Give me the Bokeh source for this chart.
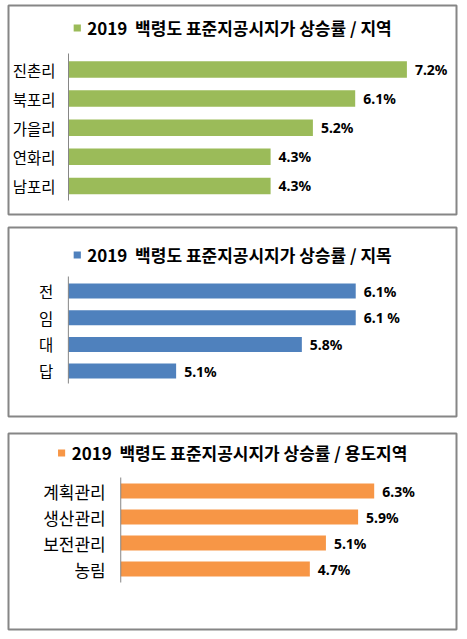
from bokeh.plotting import figure
from bokeh.models import ColumnDataSource, Range1d, Legend, LegendItem, Grid
from bokeh.layouts import column
from bokeh.core.properties import value
from bokeh.embed import file_html
from bokeh.resources import INLINE

# ---- data ----
region_cats = ["진촌리", "북포리", "가을리", "연화리", "남포리"]
region_vals = [7.2, 6.1, 5.2, 4.3, 4.3]
region_labels = ["7.2%", "6.1%", "5.2%", "4.3%", "4.3%"]
region_title = "2019  백령도 표준지공시지가 상승률 / 지역"

land_cats = ["전", "임", "대", "답"]
land_vals = [6.1, 6.1, 5.8, 5.1]
land_labels = ["6.1%", "6.1 %", "5.8%", "5.1%"]
land_title = "2019  백령도 표준지공시지가 상승률 / 지목"
land_axis_start = 4.5

zone_cats = ["계획관리", "생산관리", "보전관리", "농림"]
zone_vals = [6.3, 5.9, 5.1, 4.7]
zone_labels = ["6.3%", "5.9%", "5.1%", "4.7%"]
zone_title = "2019  백령도 표준지공시지가 상승률 / 용도지역"

KR = "Noto Sans CJK KR"
BORDER = "#868686"
PAGE_W = 467


def make_panel(cats, vals, labels, title, color, fig_top, fig_h, box, axis_px,
               axis_start, ppu, c0, step, bar_h, axis_span, legend_margin,
               cat_size, cat_gap):
    """box = (left, top, right, bottom) of the bordered panel in page pixels."""
    L, T, R, B = box
    p = figure(width=PAGE_W, height=fig_h, output_backend="svg",
               toolbar_location=None, x_axis_location=None,
               y_axis_location=None, min_border_left=L,
               min_border_right=PAGE_W - R, min_border_top=T - fig_top,
               min_border_bottom=fig_top + fig_h - B)
    p.center = [c for c in p.center if not isinstance(c, Grid)]
    p.outline_line_color = BORDER
    p.outline_line_width = 2
    p.background_fill_color = "white"
    p.border_fill_color = "white"
    p.x_range = Range1d(axis_start - (axis_px - L) / ppu,
                        axis_start + (R - axis_px) / ppu)
    p.y_range = Range1d((B - c0) / step, (T - c0) / step)

    idx = list(range(len(cats)))
    src = ColumnDataSource(dict(y=idx, cat=cats, val=vals, lab=labels,
                                base=[axis_start] * len(cats)))
    bars = p.hbar(y="y", left="base", right="val", height=bar_h / step,
                  source=src, fill_color=color, line_color=None)

    # vertical category axis line
    p.segment(x0=[axis_start], x1=[axis_start],
              y0=[(axis_span[0] - c0) / step], y1=[(axis_span[1] - c0) / step],
              line_color=BORDER, line_width=1)

    # category labels
    p.text(x="base", y="y", text="cat", source=src, text_align="right",
           text_baseline="middle", x_offset=-cat_gap,
           text_font=value(KR), text_font_size=f"{cat_size}px",
           text_color="black")

    # value labels
    p.text(x="val", y="y", text="lab", source=src, text_align="left",
           text_baseline="middle", x_offset=8, text_font=value("Noto Sans"),
           text_font_style="bold", text_font_size="14px", text_color="black")

    legend = Legend(items=[LegendItem(label=title, renderers=[bars])],
                    location="top_center", orientation="horizontal",
                    glyph_width=9, glyph_height=9, label_standoff=6,
                    padding=0, margin=legend_margin, spacing=0,
                    label_text_font=KR, label_text_font_style="bold",
                    label_text_font_size="17px", label_text_color="black",
                    background_fill_alpha=0, border_line_alpha=0)
    p.add_layout(legend)
    return p


p1 = make_panel(region_cats, region_vals, region_labels, region_title,
                "#9BBB59", 0, 221, (8, 5, 456, 214), 68, 0.0, 47.0,
                69, 29.1, 16.5, (53, 200), 10, 15.5, 13)
p2 = make_panel(land_cats, land_vals, land_labels, land_title,
                "#4F81BD", 221, 204, (8, 227, 457, 416), 68, land_axis_start,
                180.0, 290.5, 26.7, 15, (276, 383), 15, 15.5, 15)
p3 = make_panel(zone_cats, zone_vals, zone_labels, zone_title,
                "#F79646", 425, 214, (8, 433, 459, 629), 121, 0.0, 40.5,
                490.5, 26, 15, (477, 582), 7, 17, 15)

page = column(p1, p2, p3, spacing=0)
open("out.html", "w").write(file_html(page, INLINE))
